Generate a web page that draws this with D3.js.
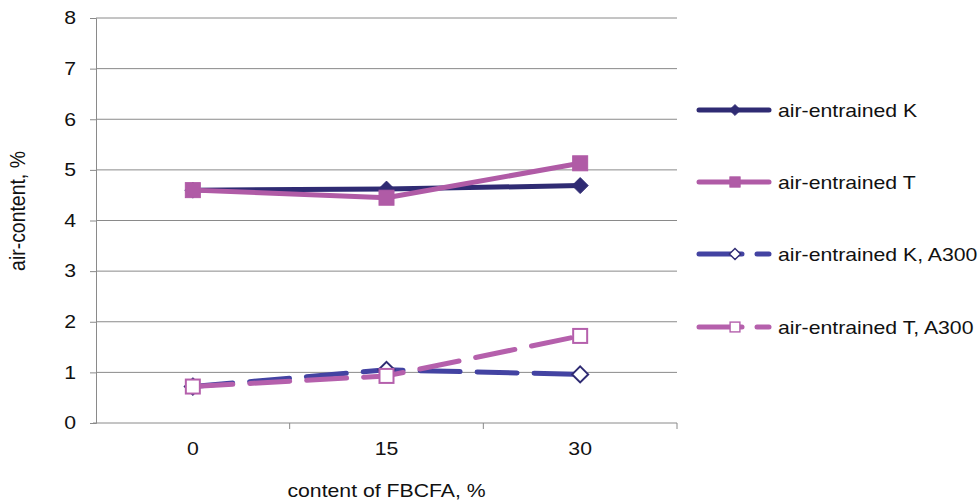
<!DOCTYPE html>
<html>
<head>
<meta charset="utf-8">
<script src="https://cdn.jsdelivr.net/npm/d3@7"></script>
<style>
  body { margin: 0; background: #fff; }
  text { font-family: "Liberation Sans", Arial, sans-serif; fill: #111; }
</style>
</head>
<body>
<div id="chart"></div>
<script>
const categories = ["0", "15", "30"];
const yTicks = [0, 1, 2, 3, 4, 5, 6, 7, 8];
const seriesNames = ["air-entrained K", "air-entrained T", "air-entrained K, A300", "air-entrained T, A300"];
const kValues = [4.60, 4.62, 4.69];
const tValues = [4.60, 4.45, 5.13];
const kA300Values = [0.72, 1.05, 0.96];
const tA300Values = [0.72, 0.93, 1.72];

const width = 979, height = 502;
const margin = { left: 96, right: 302, top: 18, bottom: 79 };
const stretch = 1.18; // text in the original is a bit wide

const svg = d3.select("#chart").append("svg")
    .attr("width", width)
    .attr("height", height);

const x = d3.scaleBand().domain(categories).range([margin.left, width - margin.right]);
const y = d3.scaleLinear().domain([0, 8]).range([height - margin.bottom, margin.top]);
const cx = c => x(c) + x.bandwidth() / 2;

// gridlines
svg.append("g")
    .selectAll("line")
    .data(yTicks.slice(1))
    .enter().append("line")
    .attr("x1", margin.left).attr("x2", width - margin.right)
    .attr("y1", d => y(d)).attr("y2", d => y(d))
    .attr("stroke", "#8a8a8a").attr("stroke-width", 1);

// y axis
const yAxis = svg.append("g")
    .attr("transform", `translate(${margin.left},0)`)
    .call(d3.axisLeft(y).tickValues(yTicks).tickSize(6).tickFormat(d3.format("d")));
yAxis.select(".domain").attr("stroke", "#8a8a8a");
yAxis.selectAll(".tick line").attr("stroke", "#8a8a8a");
yAxis.selectAll("text")
    .attr("x", -20 / stretch)
    .attr("transform", `scale(${stretch},1)`)
    .style("font-size", "18px").attr("fill", "#111");

// x axis
const xAxis = svg.append("g")
    .attr("transform", `translate(0,${y(0)})`)
    .call(d3.axisBottom(x).tickSize(0).tickPadding(19));
xAxis.select(".domain").attr("stroke", "#8a8a8a").attr("d", `M${margin.left - 3},0H${width - margin.right}`);
xAxis.selectAll("text")
    .attr("transform", `scale(${stretch},1)`)
    .style("font-size", "18px").attr("fill", "#111");
xAxis.selectAll(".tick").attr("transform", d => `translate(${cx(d) / 1},0)`);
xAxis.selectAll(".tick text").attr("x", 0);
xAxis.selectAll(".edge")
    .data(categories)
    .enter().append("line")
    .attr("class", "edge")
    .attr("x1", d => x(d) + x.bandwidth()).attr("x2", d => x(d) + x.bandwidth())
    .attr("y1", 0).attr("y2", 6)
    .attr("stroke", "#8a8a8a");

// axis titles
svg.append("text")
    .attr("transform", `translate(${(margin.left + width - margin.right) / 2},497) scale(${stretch},1)`)
    .attr("text-anchor", "middle")
    .style("font-size", "18px")
    .text("content of FBCFA, %");

svg.append("text")
    .attr("transform", `translate(25,211) rotate(-90) scale(1.08,${stretch})`)
    .attr("text-anchor", "middle")
    .style("font-size", "18px")
    .text("air-content, %");

const series = [
    { name: seriesNames[0], values: kValues, line: "#2f2b73", marker: "diamond", fill: "#2f2b73", stroke: "#2f2b73", dash: null },
    { name: seriesNames[1], values: tValues, line: "#b05ba6", marker: "square", fill: "#b05ba6", stroke: "#b05ba6", dash: null },
    { name: seriesNames[2], values: kA300Values, line: "#4343a2", marker: "diamond", fill: "#fff", stroke: "#2f2b73", dash: "40,17" },
    { name: seriesNames[3], values: tA300Values, line: "#b560ac", marker: "square", fill: "#fff", stroke: "#b560ac", dash: "40,17" }
];

const line = d3.line().x(d => cx(d[0])).y(d => y(d[1]));

function drawMarker(g, type, fill, stroke, hollow) {
    if (type === "diamond") {
        const s = 8;
        g.append("path")
            .attr("d", `M0,${-s}L${s},0L0,${s}L${-s},0Z`)
            .attr("fill", fill).attr("stroke", stroke).attr("stroke-width", hollow ? 2 : 1);
    } else {
        const s = hollow ? 7 : 7.5;
        g.append("rect")
            .attr("x", -s).attr("y", -s).attr("width", 2 * s).attr("height", 2 * s)
            .attr("fill", fill).attr("stroke", stroke).attr("stroke-width", hollow ? 2 : 1);
    }
}

// draw order: A300 series first, then solid ones
[2, 3, 0, 1].forEach(i => {
    const s = series[i];
    const pts = categories.map((c, j) => [c, s.values[j]]);
    svg.append("path")
        .datum(pts)
        .attr("d", line)
        .attr("fill", "none")
        .attr("stroke", s.line)
        .attr("stroke-width", 5)
        .attr("stroke-linecap", "round")
        .attr("stroke-linejoin", "round")
        .attr("stroke-dasharray", s.dash);
    pts.forEach(p => {
        const g = svg.append("g").attr("transform", `translate(${cx(p[0])},${y(p[1])})`);
        drawMarker(g, s.marker, s.fill, s.stroke, s.dash !== null);
    });
});

// legend
const legendY = [110, 182, 254, 327];
series.forEach((s, i) => {
    const g = svg.append("g").attr("transform", `translate(0,${legendY[i]})`);
    if (s.dash) {
        g.append("line").attr("x1", 699).attr("x2", 742).attr("y1", 0).attr("y2", 0)
            .attr("stroke", s.line).attr("stroke-width", 5).attr("stroke-linecap", "round");
        g.append("line").attr("x1", 757).attr("x2", 769).attr("y1", 0).attr("y2", 0)
            .attr("stroke", s.line).attr("stroke-width", 5).attr("stroke-linecap", "round");
    } else {
        g.append("line").attr("x1", 699).attr("x2", 769).attr("y1", 0).attr("y2", 0)
            .attr("stroke", s.line).attr("stroke-width", 5).attr("stroke-linecap", "round");
    }
    const m = g.append("g").attr("transform", "translate(735,0)scale(0.7)");
    drawMarker(m, s.marker, s.fill, s.stroke, s.dash !== null);
    g.append("text")
        .attr("transform", `translate(778,7) scale(${stretch},1)`)
        .style("font-size", "18px")
        .text(s.name);
});
</script>
</body>
</html>
